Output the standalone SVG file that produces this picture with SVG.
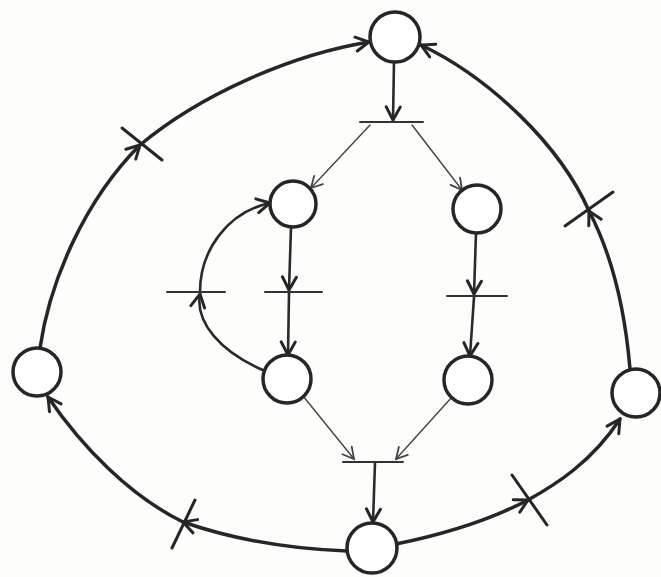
<svg xmlns="http://www.w3.org/2000/svg" width="661" height="577" viewBox="0 0 661 577">
<style>
.place{fill:#fff;stroke:#262626;stroke-width:3.5}
.bar{stroke:#262626;stroke-width:3;stroke-linecap:round}
.bar-thin{stroke:#333;stroke-width:2;stroke-linecap:round}
.arc{fill:none;stroke:#262626;stroke-width:3.5;stroke-linecap:round;marker-end:url(#ah)}
.mid{fill:none;stroke:#2a2a2a;stroke-width:2.6;stroke-linecap:round;marker-end:url(#ah)}
.thin{fill:none;stroke:#444;stroke-width:1.4;stroke-linecap:round;marker-end:url(#as)}
</style>
<defs>
<marker id="ah" markerUnits="userSpaceOnUse" viewBox="-16 -9 18 18" refX="0" refY="0" markerWidth="18" markerHeight="18" orient="auto">
<path d="M-13,-7 L0,0 L-13,7" fill="none" stroke="#262626" stroke-width="3" stroke-linecap="round"/>
</marker>
<marker id="as" markerUnits="userSpaceOnUse" viewBox="-14 -8 16 16" refX="0" refY="0" markerWidth="16" markerHeight="16" orient="auto">
<path d="M-11,-6 L0,0 L-11,6" fill="none" stroke="#444" stroke-width="1.8" stroke-linecap="round"/>
</marker>
</defs>
<rect width="661" height="577" fill="#fdfdfb"/>
<g id="connectors">
<path class="arc" d="M40,348 C50,280 85,200 140,145"/>
<path class="arc" d="M140,145 C200,95 290,55 369,42"/>
<path class="arc" d="M630,369 C625,310 612,255 589,211"/>
<path class="arc" d="M589,211 C560,145 490,78 421,45"/>
<path class="arc" d="M396,544 C440,535 490,520 528,500"/>
<path class="arc" d="M528,500 C555,485 592,462 620,419"/>
<path class="arc" d="M347,551 C290,549 235,540 183,522"/>
<path class="arc" d="M183,522 C130,496 82,447 48,397"/>
<path class="mid" d="M394,61 L393,120"/>
<path class="thin" d="M370,125 L311,188"/>
<path class="thin" d="M412,125 L462,190"/>
<path class="mid" d="M291,227 L289,290"/>
<path class="mid" d="M289,293 L288,355"/>
<path class="mid" d="M265,371 C220,352 195,322 200,294"/>
<path class="mid" d="M200,292 C200,250 228,212 270,203"/>
<path class="mid" d="M476,233 L474,294"/>
<path class="mid" d="M474,297 L470,356"/>
<path class="thin" d="M303,396 L354,459"/>
<path class="thin" d="M452,397 L396,459"/>
<path class="mid" d="M375,463 L373,522"/>
</g>
<g id="p-top"><circle class="place" cx="395" cy="37" r="25"/></g>
<g id="p-left"><circle class="place" cx="37" cy="372" r="24"/></g>
<g id="p-right"><circle class="place" cx="636" cy="393" r="24"/></g>
<g id="p-bottom"><circle class="place" cx="372" cy="548" r="25"/></g>
<g id="p-upper-left"><circle class="place" cx="293" cy="204" r="23"/></g>
<g id="p-upper-right"><circle class="place" cx="477" cy="209" r="24"/></g>
<g id="p-lower-left"><circle class="place" cx="287" cy="379" r="24"/></g>
<g id="p-lower-right"><circle class="place" cx="468" cy="380" r="24"/></g>
<g id="t-outer-left"><line class="bar" x1="122" y1="128" x2="162" y2="160"/></g>
<g id="t-outer-right"><line class="bar" x1="565" y1="226" x2="613" y2="192"/></g>
<g id="t-outer-bottom-right"><line class="bar" x1="512" y1="475" x2="547" y2="525"/></g>
<g id="t-outer-bottom-left"><line class="bar" x1="195" y1="500" x2="172" y2="548"/></g>
<g id="t-top"><line class="bar-thin" x1="360" y1="122" x2="423" y2="122"/></g>
<g id="t-inner-left"><line class="bar-thin" x1="167" y1="292" x2="225" y2="292"/></g>
<g id="t-inner-mid"><line class="bar-thin" x1="265" y1="292" x2="322" y2="292"/></g>
<g id="t-inner-right"><line class="bar-thin" x1="447" y1="296" x2="507" y2="296"/></g>
<g id="t-bottom"><line class="bar-thin" x1="343" y1="462" x2="403" y2="462"/></g>
</svg>
